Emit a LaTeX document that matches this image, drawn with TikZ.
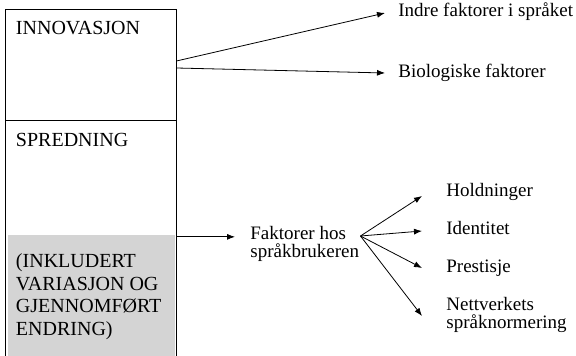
\documentclass[tikz,border=0pt]{standalone}
\usepackage{fontspec}
\newfontfamily\tidfont{Liberation Serif}
\usetikzlibrary{arrows.meta,positioning}

\tikzset{
    felt/.style={draw, rectangle, inner sep=0pt, minimum width=170.5pt},
    venstre/.style={inner sep=0pt, anchor=base west, align=left,
                    font=\tidfont\fontsize{20}{22.7}\selectfont},
    hoyre/.style={inner sep=0pt, anchor=base west, align=left,
                  font=\tidfont\fontsize{19}{17.5}\selectfont},
}

\begin{document}
\begin{tikzpicture}[->,
            >={Latex[length=8pt,width=6pt]},
            x=1pt, y=1pt,
            line width=0.8pt]

        \useasboundingbox (0,0) rectangle (576,356);

        % venstre kolonne
        \node[fill=black!17, inner sep=0pt,
              minimum width=167.2pt, minimum height=123pt] (gra)   at (91.6,59.5)    {};
        \node[felt, minimum height=111.4pt]                   (innov) at (90.75,291)    {};
        \node[felt, minimum height=237.3pt]                   (spred) at (90.75,116.65) {};

        \node[venstre, below right=26pt and 10.5pt of innov.north west, anchor=base west] (innovasjon) {INNOVASJON};
        \node[venstre, below right=26pt and 10.5pt of spred.north west, anchor=base west] (spredning)  {SPREDNING};
        \node[venstre, below right=18.5pt and 8pt of gra.north west, anchor=north west]   (inkludert)
            {(INKLUDERT\\VARIASJON OG\\GJENNOMFØRT\\ENDRING)};

        % høyre side
        \node[hoyre] (indre) at (398,339) {Indre faktorer i språket};
        \node[hoyre] (bio)   at (398,278) {Biologiske faktorer};
        \node[hoyre, anchor=north west] (faktorer) at (250,130) {Faktorer hos\\språkbrukeren};

        \node[hoyre]                                                (hold)  at (446,159) {Holdninger};
        \node[hoyre, below=38pt of hold.base west,  anchor=base west]  (ident) {Identitet};
        \node[hoyre, below=38pt of ident.base west, anchor=base west]  (prest) {Prestisje};
        \node[hoyre, below=24pt of prest.base west, anchor=north west] (nett)  {Nettverkets\\språknormering};

        \coordinate (inn)   at ([yshift=2.5pt]spred.east);
        \coordinate (vifte) at ([xshift=1pt,yshift=-10pt]faktorer.north east);

        \path ([yshift=4pt]innov.east)  edge ([xshift=-13pt,yshift=4pt]indre.base west)
              ([yshift=-3pt]innov.east) edge ([xshift=-13pt,yshift=5pt]bio.base west)
              (inn) edge [shorten >=15pt] (inn -| faktorer.west)
              (vifte) edge ([xshift=-24pt,yshift=1pt]hold.base west)
                      edge ([xshift=-24pt,yshift=4pt]ident.base west)
                      edge ([xshift=-24pt,yshift=5pt]prest.base west)
                      edge ([xshift=-24pt,yshift=-19pt]nett.north west);

    \end{tikzpicture}
\end{document}
